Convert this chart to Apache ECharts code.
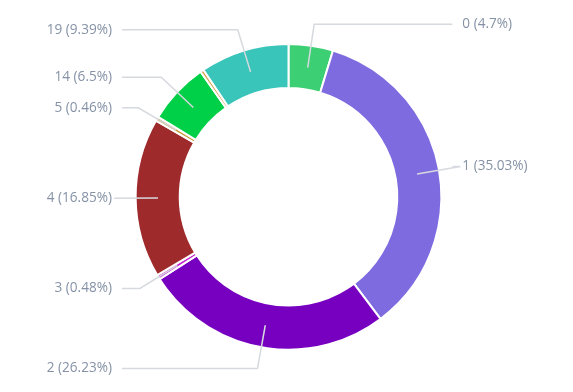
<!DOCTYPE html>
<html><head><meta charset="utf-8">
<script src="https://cdn.jsdelivr.net/npm/echarts@6/dist/echarts.min.js"></script>
<style>html,body{margin:0;padding:0;background:#fff}#c{width:573px;height:392px}</style>
</head><body><div id="c"></div>
<script>
const categories = ['0', '1', '2', '3', '4', '5', '14', '15', '19'];
const values = [4.7, 35.03, 26.23, 0.48, 16.85, 0.46, 6.5, 0.36, 9.39];
const colors = ['#3dcf74', '#7f6be0', '#7700c0', '#c21fd0', '#9e2a2b', '#c9a03e', '#00d048', '#d4a24a', '#39c5b9'];
const hiddenLabels = ['15'];

const chart = echarts.init(document.getElementById('c'), null, {renderer: 'canvas'});
const ringData = categories.map((c, i) => ({name: c, value: values[i], itemStyle: {color: colors[i]}}));
const labelData = categories.map((c, i) => ({
  name: c, value: values[i],
  label: {show: !hiddenLabels.includes(c)},
  labelLine: {show: !hiddenLabels.includes(c)}
}));
const center = [288.5, 196.8];
chart.setOption({
  animation: false,
  series: [
    {
      type: 'pie', radius: ['55.5%', '78%'], center: center,
      startAngle: 90, clockwise: true, silent: true, z: 1,
      label: {show: false}, labelLine: {show: false},
      itemStyle: {borderColor: '#ffffff', borderWidth: 2},
      data: ringData
    },
    {
      type: 'pie', radius: ['55.5%', '66.6%'], center: center,
      startAngle: 90, clockwise: true, silent: true, z: 2,
      itemStyle: {color: 'rgba(0,0,0,0)', borderWidth: 0},
      label: {
        show: true, position: 'outer', alignTo: 'labelLine', distanceToLabelLine: 10,
        formatter: '{b} ({d}%)', color: '#8592a6', fontFamily: 'Open Sans', fontSize: 13.6
      },
      labelLine: {
        show: true, length: 44, length2: -8, smooth: false, minTurnAngle: 0, maxSurfaceAngle: 180,
        lineStyle: {color: '#d6d9de', width: 1.5}
      },
      data: labelData
    }
  ]
});
</script></body></html>
